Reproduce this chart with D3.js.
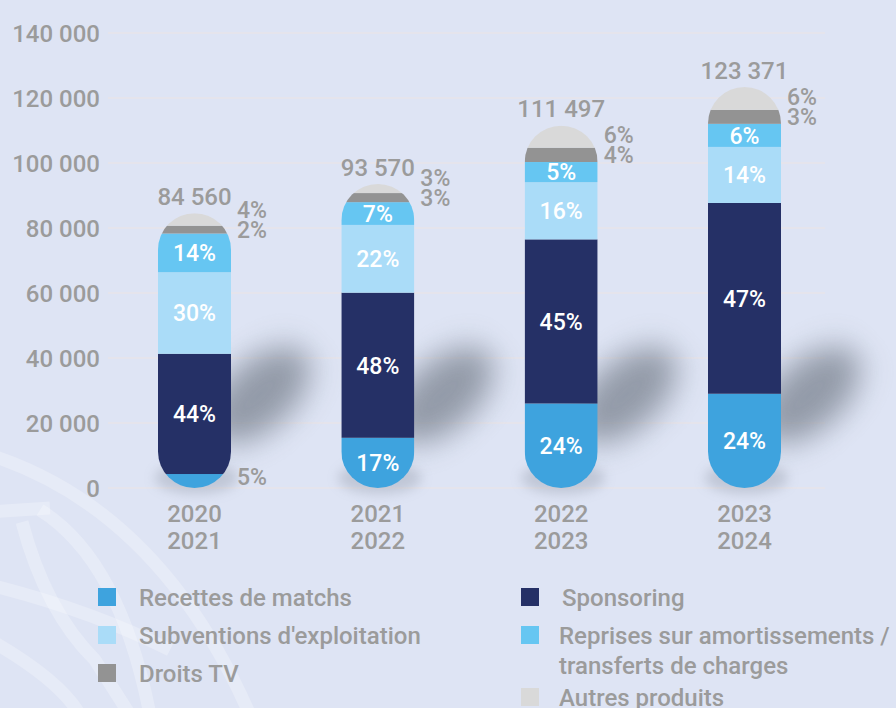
<!DOCTYPE html>
<meta charset="utf-8">
<html>
<head>
<style>
  body { margin: 0; background: #dee4f4; }
  svg { display: block; font-family: Roboto, "Noto Sans", sans-serif; }
</style>
<script src="https://cdn.jsdelivr.net/npm/d3@7"></script>
</head>
<body>
<div id="chart"></div>
<script>
// seasons (two-line labels)
var seasons = ["2020-2021", "2021-2022", "2022-2023", "2023-2024"];
var totals = [84560, 93570, 111497, 123371];

// amounts per product
var recettes    = [4300, 15450, 26000, 29000];
var sponsoring  = [37000, 44650, 50500, 58700];
var subventions = [25100, 20850, 17600, 17250];
var reprises    = [11900, 7000, 6200, 7100];
var droitsTV    = [2400, 2800, 4400, 4300];
var autres      = [3860, 2820, 6797, 7021];

// percentages printed on the chart
var pctRecettes    = [5, 17, 24, 24];
var pctSponsoring  = [44, 48, 45, 47];
var pctSubventions = [30, 22, 16, 14];
var pctReprises    = [14, 7, 5, 6];
var pctDroitsTV    = [2, 3, 4, 3];
var pctAutres      = [4, 3, 6, 6];

var yTicks = [0, 20000, 40000, 60000, 80000, 100000, 120000, 140000];

var keys = ["recettes", "sponsoring", "subventions", "reprises", "droits", "autres"];
var names = {
  recettes: "Recettes de matchs", sponsoring: "Sponsoring",
  subventions: "Subventions d'exploitation", reprises: "Reprises sur amortissements /",
  droits: "Droits TV", autres: "Autres produits"
};
var colors = {
  recettes: "#3ea3de", sponsoring: "#253066", subventions: "#aadcf8",
  reprises: "#66c6f2", droits: "#939393", autres: "#d9d9d9"
};
var pcts = {
  recettes: pctRecettes, sponsoring: pctSponsoring, subventions: pctSubventions,
  reprises: pctReprises, droits: pctDroitsTV, autres: pctAutres
};

var rows = seasons.map(function(s, i) {
  return { season: s, total: totals[i], recettes: recettes[i], sponsoring: sponsoring[i],
           subventions: subventions[i], reprises: reprises[i], droits: droitsTV[i], autres: autres[i] };
});

var W = 896, H = 708;
var grey = "#9b9b9b";
var barW = 73;

var svg = d3.select("#chart").append("svg")
  .attr("width", W).attr("height", H);

var defs = svg.append("defs");
defs.append("filter").attr("id", "blur").attr("x", "-80%").attr("y", "-80%")
  .attr("width", "260%").attr("height", "260%")
  .append("feGaussianBlur").attr("stdDeviation", 15);
defs.append("filter").attr("id", "blur2").attr("x", "-50%").attr("y", "-50%")
  .attr("width", "200%").attr("height", "200%")
  .append("feGaussianBlur").attr("stdDeviation", 6);

svg.append("rect").attr("width", W).attr("height", H).attr("fill", "#dee4f4");

// faint globe watermark, bottom left
var deco = svg.append("g").attr("fill", "none").attr("stroke", "#ffffff")
  .attr("stroke-opacity", 0.25).attr("stroke-width", 13);
["M-10,455 Q160,510 250,715",
 "M-10,512 L50,508",
 "M22,522 Q45,610 95,660 L130,715",
 "M-10,585 Q90,610 170,650",
 "M-10,640 Q60,680 80,715",
 "M40,510 Q120,560 150,715"].forEach(function(p) {
  deco.append("path").attr("d", p);
});

var y = d3.scaleLinear().domain([0, 140000]).range([488, 33]);
var x = d3.scalePoint().domain(seasons).range([194.5, 744.5]);

// gridlines
svg.append("g").selectAll("line").data(yTicks).join("line")
  .attr("x1", 108).attr("x2", 825)
  .attr("y1", function(d) { return y(d); }).attr("y2", function(d) { return y(d); })
  .attr("stroke", "#e7e5ea").attr("stroke-width", 1.5);

// y axis labels
var fmt = function(v) { return d3.format(",")(v).replace(/,/g, " "); };
svg.append("g").selectAll("text").data(yTicks).join("text")
  .attr("x", 100).attr("y", function(d) { return y(d); }).attr("dy", "0.36em")
  .attr("text-anchor", "end").attr("font-size", 24).attr("font-weight", 500)
  .attr("fill", grey).text(fmt);

// shadows behind the capsules
var sh = svg.append("g");
seasons.forEach(function(s) {
  var cx = x(s) + barW / 2 + 28;
  sh.append("ellipse").attr("cx", cx).attr("cy", 395).attr("rx", 62).attr("ry", 34)
    .attr("transform", "rotate(-42," + cx + ",395)")
    .attr("fill", "#868e9b").attr("opacity", 0.85).attr("filter", "url(#blur)");
  sh.append("ellipse").attr("cx", x(s) + 2).attr("cy", 478).attr("rx", 42).attr("ry", 16)
    .attr("fill", "#8a92a0").attr("opacity", 0.35).attr("filter", "url(#blur2)");
});

var stack = d3.stack().keys(keys)(rows);

// capsule clip paths
seasons.forEach(function(s, i) {
  defs.append("clipPath").attr("id", "cap" + i)
    .append("rect").attr("x", x(s) - barW / 2).attr("y", y(totals[i]))
    .attr("width", barW).attr("height", y(0) - y(totals[i]))
    .attr("rx", barW / 2).attr("ry", barW / 2);
});

var bars = svg.append("g");
stack.forEach(function(layer) {
  layer.forEach(function(d, i) {
    bars.append("rect").attr("clip-path", "url(#cap" + i + ")")
      .attr("x", x(seasons[i]) - barW / 2).attr("width", barW)
      .attr("y", y(d[1])).attr("height", y(d[0]) - y(d[1]))
      .attr("fill", colors[layer.key]);
  });
});

// percentage labels
var lab = svg.append("g").attr("font-size", 23).attr("font-weight", 500);
stack.forEach(function(layer) {
  layer.forEach(function(d, i) {
    var k = layer.key, mid = (y(d[0]) + y(d[1])) / 2, h = y(d[0]) - y(d[1]);
    var txt = pcts[k][i] + "%";
    var right = x(seasons[i]) + barW / 2 + 6;
    if (k === "droits" || k === "autres") return;
    if (h < 18) {
      lab.append("text").attr("x", right).attr("y", mid - 4).attr("dy", "0.36em")
        .attr("fill", grey).text(txt);
    } else {
      lab.append("text").attr("x", x(seasons[i])).attr("y", mid).attr("dy", "0.36em")
        .attr("text-anchor", "middle").attr("fill", "#ffffff").text(txt);
    }
  });
});
// droits / autres beside the cap
var dLayer = stack[4];
dLayer.forEach(function(d, i) {
  var mid = (y(d[0]) + y(d[1])) / 2;
  var right = x(seasons[i]) + barW / 2 + 6;
  lab.append("text").attr("x", right).attr("y", mid).attr("dy", "0.36em")
    .attr("fill", grey).text(pctDroitsTV[i] + "%");
  lab.append("text").attr("x", right).attr("y", mid - 20).attr("dy", "0.36em")
    .attr("fill", grey).text(pctAutres[i] + "%");
});

// totals
svg.append("g").selectAll("text").data(rows).join("text")
  .attr("x", function(d) { return x(d.season); })
  .attr("y", function(d) { return y(d.total) - 17; }).attr("dy", "0.36em")
  .attr("text-anchor", "middle").attr("font-size", 24).attr("font-weight", 500)
  .attr("fill", grey).text(function(d) { return fmt(d.total); });

// season labels
var xl = svg.append("g").attr("font-size", 24).attr("font-weight", 500).attr("fill", grey)
  .attr("text-anchor", "middle");
seasons.forEach(function(s) {
  var parts = s.split("-");
  xl.append("text").attr("x", x(s)).attr("y", 513).attr("dy", "0.36em").text(parts[0]);
  xl.append("text").attr("x", x(s)).attr("y", 540.5).attr("dy", "0.36em").text(parts[1]);
});

// legend
var legend = [
  { k: "recettes", x: 98, y: 597, tx: 139 },
  { k: "subventions", x: 98, y: 635, tx: 139 },
  { k: "droits", x: 98, y: 673, tx: 139 },
  { k: "sponsoring", x: 521, y: 597, tx: 562 },
  { k: "reprises", x: 521, y: 635, tx: 559 },
  { k: "autres", x: 521, y: 697, tx: 559 }
];
var lg = svg.append("g").attr("font-size", 24).attr("font-weight", 500).attr("fill", grey);
legend.forEach(function(l) {
  lg.append("rect").attr("x", l.x).attr("y", l.y - 9).attr("width", 18).attr("height", 18)
    .attr("fill", colors[l.k]);
  lg.append("text").attr("x", l.tx).attr("y", l.y).attr("dy", "0.36em")
    .text(names[l.k]);
});
lg.append("text").attr("x", 559).attr("y", 665).attr("dy", "0.36em").text("transferts de charges");
</script>
</body>
</html>
